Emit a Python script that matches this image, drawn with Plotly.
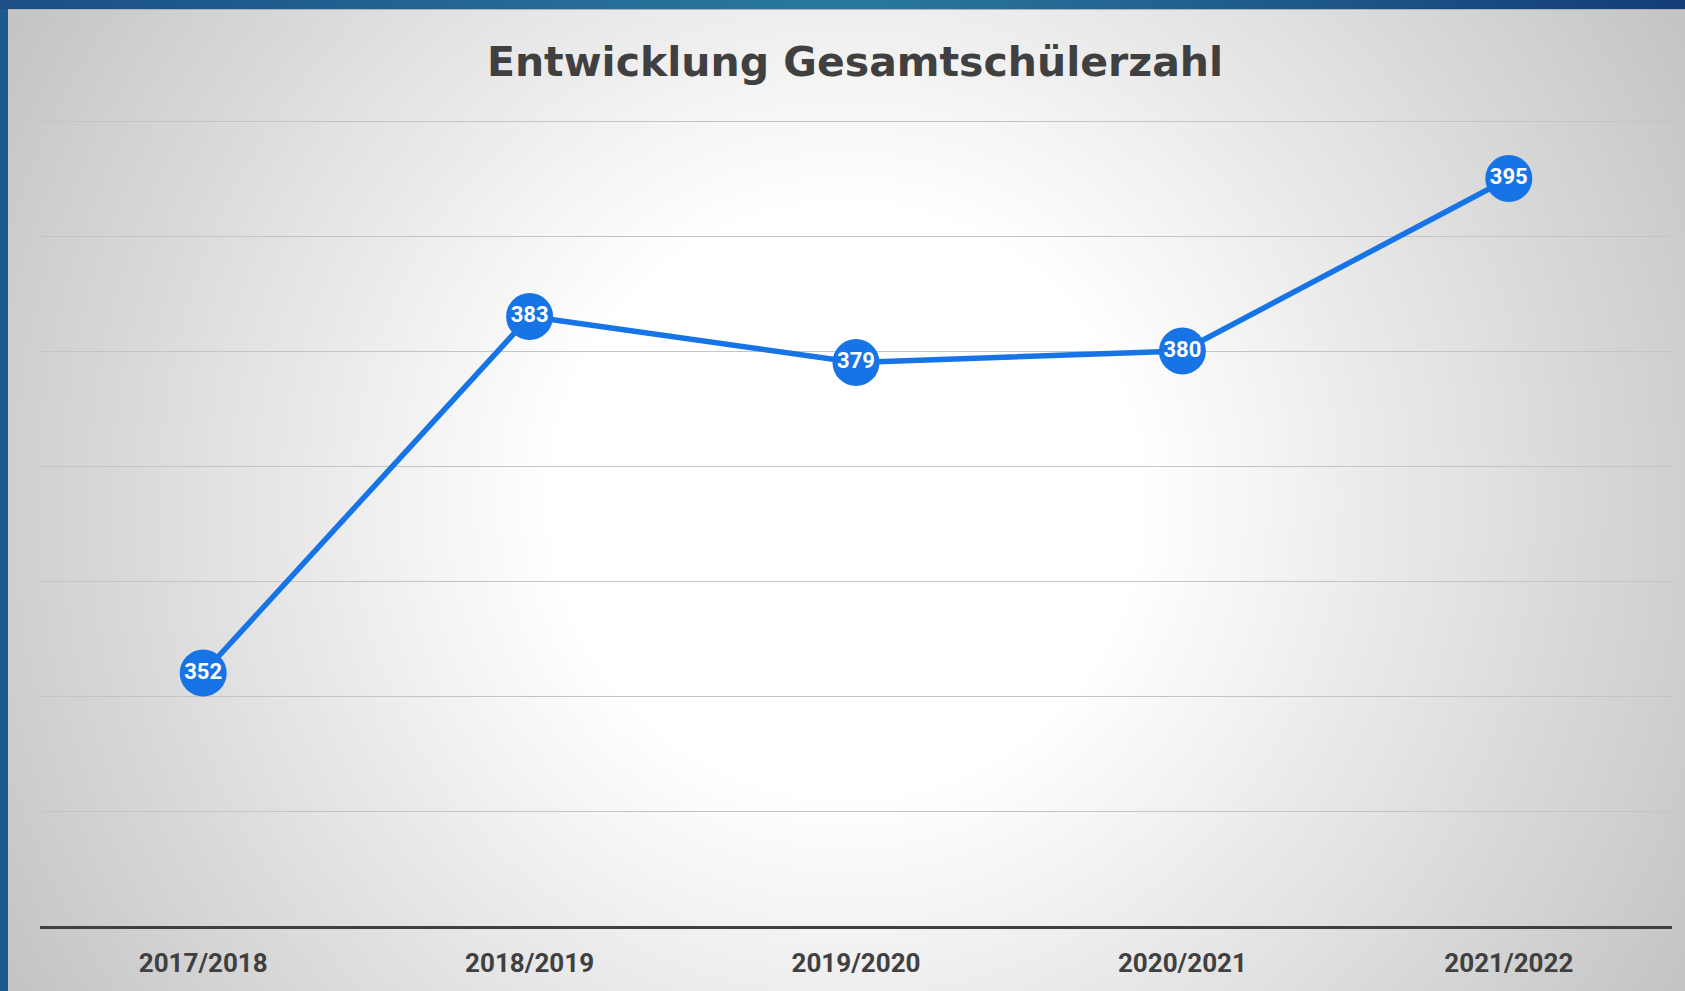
import base64, struct, zlib
import numpy as np
import plotly.graph_objects as go

# ---- data ----
categories = ["2017/2018", "2018/2019", "2019/2020", "2020/2021", "2021/2022"]
students = [352, 383, 379, 380, 395]
title_text = "Entwicklung Gesamtschülerzahl"

W, H = 1685, 991

# ---- background image (radial gradient + blue frame) ----
def make_png(arr):
    h, w, _ = arr.shape
    raw = b"".join(b"\x00" + arr[i].tobytes() for i in range(h))
    def chunk(tag, data):
        c = struct.pack(">I", len(data)) + tag + data
        return c + struct.pack(">I", zlib.crc32(tag + data) & 0xffffffff)
    png = b"\x89PNG\r\n\x1a\n"
    png += chunk(b"IHDR", struct.pack(">IIBBBBB", w, h, 8, 2, 0, 0, 0))
    png += chunk(b"IDAT", zlib.compress(raw, 9))
    png += chunk(b"IEND", b"")
    return "data:image/png;base64," + base64.b64encode(png).decode()

yy, xx = np.mgrid[0:H, 0:W].astype(np.float32)
cx, cy = 846.0, 500.0
r = np.sqrt((xx - cx) ** 2 + (yy - cy) ** 2)
g = 255.0 - 0.088 * np.clip(r - 300.0, 0, None)
g = np.clip(g, 0, 255).astype(np.uint8)
img = np.stack([g, g, g], axis=-1)

# top bar gradient
top_h, left_w = 9, 8
t = np.linspace(0, 1, W)
c_left = np.array([0x1b, 0x4f, 0x86], dtype=float)
c_mid = np.array([0x2a, 0x7a, 0x9e], dtype=float)
c_right = np.array([0x14, 0x3d, 0x77], dtype=float)
bar = np.where(t[:, None] < 0.5,
               c_left + (c_mid - c_left) * (t[:, None] / 0.5),
               c_mid + (c_right - c_mid) * ((t[:, None] - 0.5) / 0.5))
img[:top_h, :, :] = bar[None, :, :].astype(np.uint8)
img[top_h, left_w:, :] = 178
# left bar
img[:, :left_w, :] = np.array([0x1f, 0x5a, 0x8e], dtype=np.uint8)
img[:top_h, :left_w, :] = np.array([0x1b, 0x4f, 0x86], dtype=np.uint8)

bg_uri = make_png(np.ascontiguousarray(img))

# ---- figure ----
line_color = "#1774E6"
fig = go.Figure()
fig.add_trace(go.Scatter(
    x=categories, y=students,
    mode="lines+markers+text",
    line=dict(color=line_color, width=5.5),
    marker=dict(size=47, color=line_color, line=dict(width=0)),
    text=[str(v) for v in students],
    textposition="middle center",
    textfont=dict(family="Roboto", size=22, color="white", weight="bold"),
    hoverinfo="x+y",
    cliponaxis=False,
))

x0, x1 = 40 / W, 1672 / W
# axis 330 at y=926 px, 400 at y=121 px -> 11.5 px / unit; range extended to 401
y_bot, y_top = (H - 926) / H, (H - 109.5) / H

fig.update_layout(
    width=W, height=H,
    margin=dict(l=0, r=0, t=0, b=0),
    paper_bgcolor="#d8d8d8",
    plot_bgcolor="rgba(0,0,0,0)",
    showlegend=False,
    title=dict(
        text=title_text,
        x=855 / W, xanchor="center",
        y=1 - 62 / H, yanchor="middle",
        font=dict(family="DejaVu Sans", size=41, color="#404040", weight="bold"),
    ),
    images=[dict(
        source=bg_uri, xref="paper", yref="paper",
        x=0, y=1, sizex=1, sizey=1, xanchor="left", yanchor="top",
        sizing="stretch", layer="below",
    )],
    xaxis=dict(
        domain=[x0, x1],
        range=[-0.5, 4.5],
        showgrid=False,
        showline=True, linecolor="#404040", linewidth=3,
        ticks="outside", ticklen=12, tickcolor="rgba(0,0,0,0)",
        tickfont=dict(family="Roboto", size=26, color="#404040", weight="bold"),
        zeroline=False,
    ),
    yaxis=dict(
        domain=[y_bot, y_top],
        range=[330, 401],
        dtick=10, tick0=330,
        showgrid=True, gridcolor="#c4c4c4", gridwidth=1,
        showticklabels=False, zeroline=False, showline=False,
    ),
)

fig.write_html(
    "out.html",
    config={"displayModeBar": False},
    post_script="document.body.style.margin='0';document.body.style.padding='0';",
)
